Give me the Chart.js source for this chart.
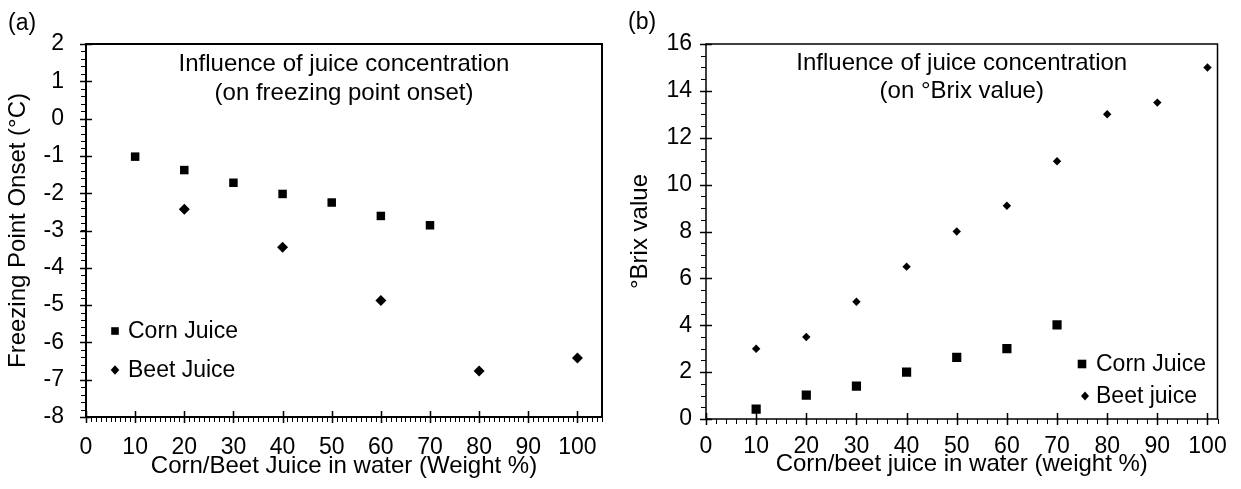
<!DOCTYPE html>
<html><head><meta charset="utf-8">
<script src="https://cdn.jsdelivr.net/npm/chart.js@4.4.1/dist/chart.umd.min.js"></script>
<style>
html,body{margin:0;padding:0;background:#fff;}
#wrap{position:relative;width:1241px;height:489px;overflow:hidden;}
.box{position:absolute;top:0;height:489px;}
</style></head><body>
<div id="wrap">
<div class="box" style="left:0;width:620px"><canvas id="ca"></canvas></div>
<div class="box" style="left:620px;width:621px"><canvas id="cb"></canvas></div>
</div>
<script>
// ---------- data (a) ----------
const cornAx = [10, 20, 30, 40, 50, 60, 70];
const cornAy = [-1.02, -1.38, -1.72, -2.02, -2.25, -2.61, -2.86];
const beetAx = [20, 40, 60, 80, 100];
const beetAy = [-2.43, -3.45, -4.88, -6.77, -6.42];
const xTicksA = [0, 10, 20, 30, 40, 50, 60, 70, 80, 90, 100];
const yTicksA = [-8, -7, -6, -5, -4, -3, -2, -1, 0, 1, 2];
// ---------- data (b) ----------
const cornBx = [10, 20, 30, 40, 50, 60, 70];
const cornBy = [0.42, 1.02, 1.4, 2.0, 2.63, 3.0, 4.02];
const beetBx = [10, 20, 30, 40, 50, 60, 70, 80, 90, 100];
const beetBy = [3.0, 3.5, 5.0, 6.5, 8.0, 9.1, 11.0, 13.0, 13.5, 15.0];
const xTicksB = [0, 10, 20, 30, 40, 50, 60, 70, 80, 90, 100];
const yTicksB = [0, 2, 4, 6, 8, 10, 12, 14, 16];

const FONT = "'Liberation Sans', Arial, sans-serif";
const pts = (xs, ys) => xs.map((x, i) => ({x: x, y: ys[i]}));

function drawMarker(ctx, style, x, y, s) {
  ctx.beginPath();
  if (style === 'rect') { ctx.rect(x - s, y - s, 2 * s, 2 * s); }
  else { ctx.moveTo(x - s, y); ctx.lineTo(x, y - s * 1.1); ctx.lineTo(x + s, y); ctx.lineTo(x, y + s * 1.1); ctx.closePath(); }
  ctx.fillStyle = '#000'; ctx.fill();
}

function makeDeco(cfg) {
  return {
    id: 'deco',
    beforeDatasetsDraw(chart) {
      const ctx = chart.ctx, ca = chart.chartArea;
      const xs = chart.scales.x, ys = chart.scales.y;
      ctx.save();
      ctx.strokeStyle = '#000';
      ctx.lineWidth = cfg.frameW;
      ctx.strokeRect(ca.left, ca.top, ca.right - ca.left, ca.bottom - ca.top);
      ctx.lineWidth = 1;
      ctx.beginPath();
      for (let v = xs.min; v <= xs.max + 1e-9; v += cfg.xMinor) {
        const p = Math.round(xs.getPixelForValue(v)) + 0.5;
        ctx.moveTo(p, ca.bottom); ctx.lineTo(p, ca.bottom + cfg.minorLen);
      }
      for (let v = ys.min; v <= ys.max + 1e-9; v += cfg.yMinor) {
        const p = Math.round(ys.getPixelForValue(v)) + 0.5;
        ctx.moveTo(ca.left - cfg.minorLen, p); ctx.lineTo(ca.left, p);
      }
      ctx.stroke();
      ctx.lineWidth = 1.5;
      ctx.beginPath();
      xs.ticks.forEach(t => {
        const p = Math.round(xs.getPixelForValue(t.value)) + 0.5;
        ctx.moveTo(p, ca.bottom - cfg.majorLen); ctx.lineTo(p, ca.bottom + cfg.majorLen);
      });
      ys.ticks.forEach(t => {
        const p = Math.round(ys.getPixelForValue(t.value)) + 0.5;
        ctx.moveTo(ca.left - cfg.majorLen, p); ctx.lineTo(ca.left + cfg.majorLen, p);
      });
      ctx.stroke();
      ctx.restore();
    },
    afterDraw(chart) {
      const ctx = chart.ctx, ca = chart.chartArea;
      ctx.save();
      ctx.fillStyle = '#000';
      ctx.textBaseline = 'middle';
      ctx.font = '23px ' + FONT;
      ctx.textAlign = 'left';
      ctx.fillText(cfg.panel, cfg.panelX, cfg.panelY);
      ctx.font = '24px ' + FONT;
      ctx.textAlign = 'center';
      const cx = (ca.left + ca.right) / 2;
      cfg.title.forEach((t, i) => ctx.fillText(t, cx, cfg.titleY[i]));
      ctx.font = '23px ' + FONT;
      ctx.textAlign = 'left';
      chart.data.datasets.forEach((ds, i) => {
        drawMarker(ctx, ds.pointStyle, cfg.legMX[i], cfg.legY[i], cfg.legS[i]);
        ctx.fillStyle = '#000';
        ctx.fillText(ds.label, cfg.legTX, cfg.legY[i] + 1);
      });
      ctx.restore();
    }
  };
}

function axisCommon(min, max, ticksArr, title, fit, isX, tickPad, titlePad) {
  const o = {
    type: 'linear', min: min, max: max,
    afterBuildTicks: s => { s.ticks = ticksArr.map(v => ({value: v})); },
    grid: {display: false, drawTicks: false},
    border: {display: false},
    ticks: {color: '#000', font: {family: FONT, size: 23}, padding: tickPad, maxRotation: 0, autoSkip: false},
    title: {display: true, text: title, color: '#000', font: {family: FONT, size: 24}, padding: titlePad}
  };
  if (isX) o.afterFit = s => { s.height = fit; };
  else o.afterFit = s => { s.width = fit; };
  return o;
}

Chart.defaults.font.family = FONT;

new Chart(document.getElementById('ca'), {
  type: 'scatter',
  data: {datasets: [
    {label: 'Corn Juice', data: pts(cornAx, cornAy), pointStyle: 'rect', pointRadius: 6, pointHoverRadius: 6, backgroundColor: '#000', borderWidth: 0},
    {label: 'Beet Juice', data: pts(beetAx, beetAy), pointStyle: 'rectRot', pointRadius: 5.5, pointHoverRadius: 5.5, backgroundColor: '#000', borderWidth: 0}
  ]},
  options: {
    responsive: true, maintainAspectRatio: false, animation: false,
    layout: {padding: {left: 0, top: 44, right: 18, bottom: 0}},
    plugins: {legend: {display: false}, tooltip: {enabled: false}},
    scales: {
      x: axisCommon(0, 105, xTicksA, 'Corn/Beet Juice in water (Weight %)', 72, true, 17, {top: 0, bottom: 8}),
      y: axisCommon(-8, 2, yTicksA, 'Freezing Point Onset (°C)', 86, false, 22, {top: 4, bottom: 0})
    }
  },
  plugins: [makeDeco({
    frameW: 2, xMinor: 1, yMinor: 0.2, minorLen: 5, majorLen: 6,
    panel: '(a)', panelX: 8, panelY: 24,
    title: ['Influence of juice concentration', '(on freezing point onset)'], titleY: [64, 93],
    legMX: [115, 115], legY: [331, 370], legS: [3.8, 4.3], legTX: 128
  })]
});

new Chart(document.getElementById('cb'), {
  type: 'scatter',
  data: {datasets: [
    {label: 'Corn Juice', data: pts(cornBx, cornBy), pointStyle: 'rect', pointRadius: 6.5, pointHoverRadius: 6.5, backgroundColor: '#000', borderWidth: 0},
    {label: 'Beet juice', data: pts(beetBx, beetBy), pointStyle: 'rectRot', pointRadius: 4.2, pointHoverRadius: 4.2, backgroundColor: '#000', borderWidth: 0}
  ]},
  options: {
    responsive: true, maintainAspectRatio: false, animation: false,
    layout: {padding: {left: 0, top: 44, right: 17, bottom: 0}},
    plugins: {legend: {display: false}, tooltip: {enabled: false}},
    scales: {
      x: axisCommon(0, 102, xTicksB, 'Corn/beet juice in water (weight %)', 70, true, 14, {top: 0, bottom: 10}),
      y: axisCommon(0, 16, yTicksB, '°Brix value', 86, false, 14, {top: 6, bottom: 0})
    }
  },
  plugins: [makeDeco({
    frameW: 1.5, xMinor: 2, yMinor: 0.5, minorLen: 5, majorLen: 6,
    panel: '(b)', panelX: 8, panelY: 23,
    title: ['Influence of juice concentration', '(on °Brix value)'], titleY: [63, 91],
    legMX: [462, 465], legY: [364, 396], legS: [4.3, 4], legTX: 476
  })]
});
</script>
</body></html>
